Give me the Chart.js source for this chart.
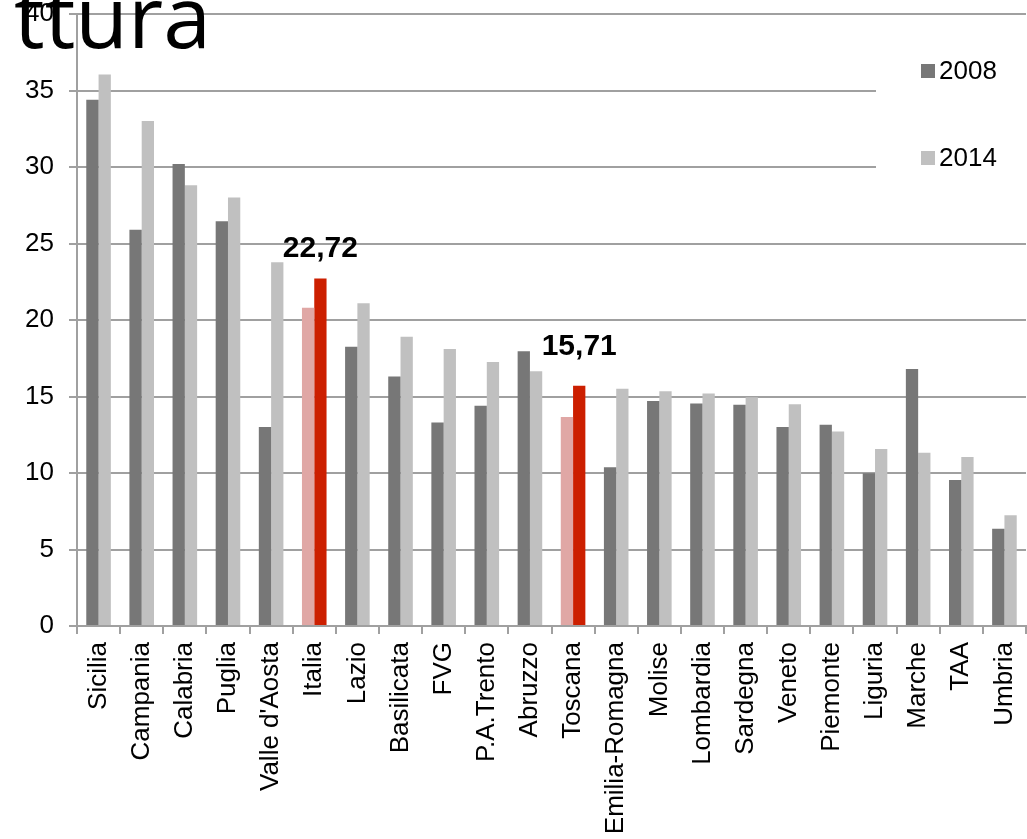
<!DOCTYPE html>
<html>
<head>
<meta charset="utf-8">
<script src="https://cdn.jsdelivr.net/npm/chart.js@4.4.1/dist/chart.umd.min.js"></script>
<style>
  html, body { margin: 0; padding: 0; background: #ffffff; }
  #wrap { width: 1027px; height: 839px; position: relative; }
</style>
</head>
<body>
<div id="wrap"><canvas id="MainChart" width="1027" height="839"></canvas></div>
<script>
// data
const categories = ['Sicilia', 'Campania', 'Calabria', 'Puglia', "Valle d'Aosta", 'Italia', 'Lazio',
    'Basilicata', 'FVG', 'P.A.Trento', 'Abruzzo', 'Toscana', 'Emilia-Romagna', 'Molise',
    'Lombardia', 'Sardegna', 'Veneto', 'Piemonte', 'Liguria', 'Marche', 'TAA', 'Umbria'];
const values_2008 = [34.4, 25.9, 30.2, 26.45, 13.0, 20.8, 18.25, 16.3, 13.3, 14.4, 17.95,
    13.66, 10.37, 14.7, 14.55, 14.46, 13.0, 13.16, 9.98, 16.8, 9.54, 6.36];
const values_2014 = [36.05, 33.0, 28.8, 28.0, 23.77, 22.72, 21.1, 18.9, 18.1, 17.25, 16.65,
    15.71, 15.5, 15.34, 15.2, 14.95, 14.5, 12.72, 11.57, 11.33, 11.05, 7.24];
const series_labels = ['2008', '2014'];
const highlighted = ['Italia', 'Toscana'];
const y_ticks = [0, 5, 10, 15, 20, 25, 30, 35, 40];
const title_text = 'ttura';

const FONT = '"Liberation Sans", Arial, sans-serif';

function bar_colors(normal, highlight){
    return categories.map(c => highlighted.includes(c) ? highlight : normal);
}

const legend_colors = ['#777777', '#c0c0c0'];

// legend boxes on the right, over a white patch that hides the grid
const side_legend = {
    id: 'side_legend',
    beforeDatasetsDraw(chart){
        const ctx = chart.ctx;
        ctx.save();
        ctx.fillStyle = '#ffffff';
        ctx.fillRect(876, 30, 151, 180);
        ctx.restore();
    },
    afterDraw(chart){
        const ctx = chart.ctx;
        ctx.save();
        ctx.font = '26px ' + FONT;
        ctx.textBaseline = 'middle';
        const rows = [71, 158];
        for (let i = 0; i < series_labels.length; i++){
            ctx.fillStyle = legend_colors[i];
            ctx.fillRect(921, rows[i] - 7, 14, 14);
            ctx.fillStyle = '#000000';
            ctx.fillText(series_labels[i], 939, rows[i] + 1);
        }
        ctx.restore();
    }
};

// bold value labels over the highlighted 2014 bars
const value_labels = {
    id: 'value_labels',
    afterDatasetsDraw(chart){
        const ctx = chart.ctx;
        const meta = chart.getDatasetMeta(1);
        const offsets = [21, 31];
        ctx.save();
        ctx.font = 'bold 30px ' + FONT;
        ctx.fillStyle = '#000000';
        ctx.textAlign = 'center';
        ctx.textBaseline = 'alphabetic';
        highlighted.forEach((name, k) => {
            const idx = categories.indexOf(name);
            const bar = meta.data[idx];
            const txt = values_2014[idx].toFixed(2).replace('.', ',');
            ctx.fillText(txt, bar.x, bar.y - offsets[k]);
        });
        ctx.restore();
    }
};

// clipped slide title in the top left corner
const slide_title = {
    id: 'slide_title',
    afterDraw(chart){
        const ctx = chart.ctx;
        ctx.save();
        ctx.font = '86px "Open Sans", sans-serif';
        ctx.fillStyle = '#000000';
        ctx.textBaseline = 'alphabetic';
        ctx.fillText(title_text, 14, 48);
        ctx.restore();
    }
};

const ctx = document.getElementById('MainChart').getContext('2d');
const chart = new Chart(ctx, {
    type: 'bar',
    data: {
        labels: categories,
        datasets: [
            {
                label: series_labels[0],
                data: values_2008,
                backgroundColor: bar_colors('#777777', '#e0a7a5'),
                barPercentage: 1,
                categoryPercentage: 0.57
            },
            {
                label: series_labels[1],
                data: values_2014,
                backgroundColor: bar_colors('#c0c0c0', '#cc1f00'),
                barPercentage: 1,
                categoryPercentage: 0.57
            }
        ]
    },
    options: {
        responsive: false,
        animation: false,
        layout: { padding: { top: 14, right: 1, left: 0, bottom: 0 } },
        plugins: {
            legend: { display: false },
            tooltip: { enabled: false }
        },
        scales: {
            x: {
                afterFit: s => {
                    s.height = 213;
                    s.paddingLeft = 0;
                    s.paddingRight = 0;
                },
                grid: {
                    drawOnChartArea: false,
                    drawTicks: true,
                    tickLength: 8,
                    color: '#a0a0a0',
                    lineWidth: 2
                },
                border: { color: '#a0a0a0', width: 2 },
                ticks: {
                    autoSkip: false,
                    maxRotation: 90,
                    minRotation: 90,
                    padding: 8,
                    color: '#000000',
                    font: { family: FONT, size: 26 }
                }
            },
            y: {
                min: 0,
                max: 40,
                afterFit: s => {
                    s.width = 77;
                    s.paddingTop = 0;
                    s.paddingBottom = 0;
                },
                afterBuildTicks: s => { s.ticks = y_ticks.map(v => ({ value: v })); },
                grid: {
                    color: '#a0a0a0',
                    lineWidth: 2,
                    tickLength: 8
                },
                border: { color: '#a0a0a0', width: 2 },
                ticks: {
                    padding: 15,
                    color: '#000000',
                    font: { family: FONT, size: 26 }
                }
            }
        }
    },
    plugins: [side_legend, value_labels, slide_title]
});
</script>
</body>
</html>
